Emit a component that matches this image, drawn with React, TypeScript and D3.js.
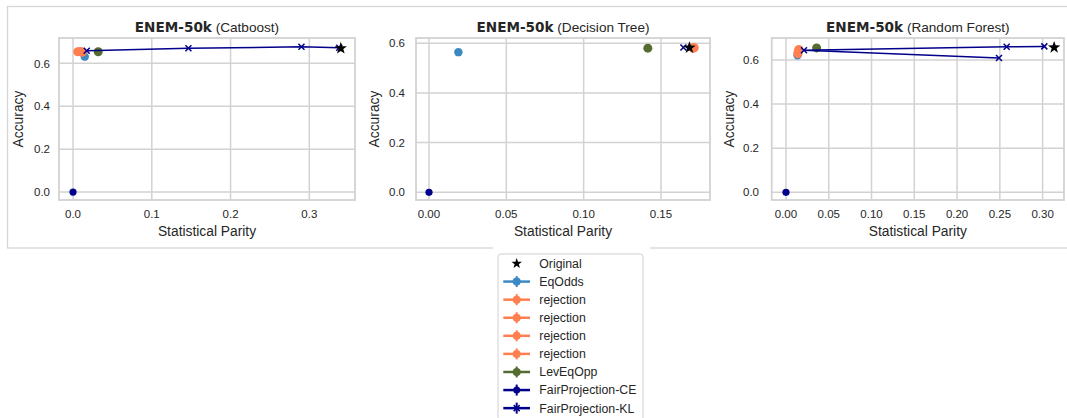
import React from "react";
import * as d3 from "d3";

const W = 1067;
const H = 418;

// ---------- data ----------
const titles = ["Catboost", "Decision Tree", "Random Forest"];
const xTickVals = [
  [0, 0.1, 0.2, 0.3],
  [0, 0.05, 0.1, 0.15],
  [0, 0.05, 0.1, 0.15, 0.2, 0.25, 0.3],
];
const xTickFmt = [".1f", ".2f", ".2f"];
const yTickVals = [0, 0.2, 0.4, 0.6];
const xDomains: [number, number][] = [
  [-0.0178, 0.358],
  [-0.0084, 0.1817],
  [-0.0167, 0.325],
];
const yDomains: [number, number][] = [
  [-0.037, 0.718],
  [-0.031, 0.621],
  [-0.035, 0.7],
];

// [x, y] per panel
const originalPts = [[0.34, 0.67], [0.1684, 0.582], [0.3135, 0.657]];
const eqOddsPts = [[0.0149, 0.631], [0.019, 0.564], [0.0135, 0.622]];
const rejection1 = [[0.006, 0.654], [0.1705, 0.581], [0.015, 0.648]];
const rejection2 = [[0.009, 0.655], [0.171, 0.58], [0.015, 0.642]];
const rejection3 = [[0.011, 0.653], [0.1715, 0.582], [0.014, 0.635]];
const rejection4 = [[0.012, 0.652], [0.1712, 0.581], [0.014, 0.628]];
const levEqOppPts = [[0.032, 0.654], [0.1415, 0.58], [0.0358, 0.655]];
const fpCEPts = [[0, 0], [0, 0], [0, 0]];
const fpKLPaths = [
  [[0.0174, 0.659], [0.1465, 0.67], [0.29, 0.677], [0.338, 0.673]],
  [[0.1645, 0.583]],
  [[0.249, 0.609], [0.021, 0.644], [0.258, 0.66], [0.302, 0.662]],
];

const legendLabels = [
  "Original",
  "EqOdds",
  "rejection",
  "rejection",
  "rejection",
  "rejection",
  "LevEqOpp",
  "FairProjection-CE",
  "FairProjection-KL",
];

// ---------- style ----------
const C_EQ = "#3a89c4";
const C_REJ = "#ff7f50";
const C_LEV = "#556b2f";
const C_FP = "#00008b";
const GRID = "#d2d2d2";
const TXT = "#262626";
const FONT = "'Liberation Sans', Arial, Helvetica, sans-serif";

const panels = [
  { left: 59, right: 355, ylabX: 23, ytickX: 50 },
  { left: 416, right: 710, ylabX: 378.5, ytickX: 405 },
  { left: 771.7, right: 1064, ylabX: 733.5, ytickX: 759 },
];
const TOP = 38;
const BOTTOM = 200;

function starPath(cx: number, cy: number, R: number) {
  const r = R * 0.4;
  const pts: string[] = [];
  for (let i = 0; i < 10; i++) {
    const a = -Math.PI / 2 + (i * Math.PI) / 5;
    const rr = i % 2 === 0 ? R : r;
    pts.push(`${cx + rr * Math.cos(a)},${cy + rr * Math.sin(a)}`);
  }
  return "M" + pts.join("L") + "Z";
}

function XMark({ x, y, s, color }: { x: number; y: number; s: number; color: string }) {
  return (
    <g stroke={color} strokeWidth={1.5}>
      <line x1={x - s} y1={y - s} x2={x + s} y2={y + s} />
      <line x1={x - s} y1={y + s} x2={x + s} y2={y - s} />
    </g>
  );
}

function Panel({ i }: { i: number }) {
  const p = panels[i];
  const x = d3.scaleLinear().domain(xDomains[i]).range([p.left, p.right]);
  const y = d3.scaleLinear().domain(yDomains[i]).range([BOTTOM, TOP]);
  const fx = d3.format(xTickFmt[i]);
  const fy = d3.format(".1f");
  const line = d3
    .line<number[]>()
    .x((d) => x(d[0]))
    .y((d) => y(d[1]));
  const cx = (p.left + p.right) / 2;
  const dot = (pt: number[], color: string, r: number, key: string) => (
    <circle key={key} cx={x(pt[0])} cy={y(pt[1])} r={r} fill={color} />
  );
  const kl = fpKLPaths[i];
  return (
    <g>
      {/* grid */}
      {xTickVals[i].map((t) => (
        <line key={"gx" + t} x1={x(t)} x2={x(t)} y1={TOP} y2={BOTTOM} stroke={GRID} strokeWidth={1.5} />
      ))}
      {yTickVals.map((t) => (
        <line key={"gy" + t} x1={p.left} x2={p.right} y1={y(t)} y2={y(t)} stroke={GRID} strokeWidth={1.5} />
      ))}
      <rect x={p.left} y={TOP} width={p.right - p.left} height={BOTTOM - TOP} fill="none" stroke={GRID} strokeWidth={1.8} />
      {/* tick labels */}
      {xTickVals[i].map((t) => (
        <text key={"tx" + t} x={x(t)} y={218} textAnchor="middle" fontSize={11.5} fill={TXT} fontFamily={FONT}>
          {fx(t)}
        </text>
      ))}
      {yTickVals.map((t) => (
        <text key={"ty" + t} x={p.ytickX} y={y(t) + 4.2} textAnchor="end" fontSize={11.5} fill={TXT} fontFamily={FONT}>
          {fy(t)}
        </text>
      ))}
      {/* axis labels */}
      <text x={cx} y={236} textAnchor="middle" fontSize={13.8} fill={TXT} fontFamily={FONT}>
        Statistical Parity
      </text>
      <text
        transform={`translate(${p.ylabX},${(TOP + BOTTOM) / 2}) rotate(-90)`}
        textAnchor="middle"
        fontSize={13.8}
        fill={TXT}
        fontFamily={FONT}
      >
        Accuracy
      </text>
      {/* title */}
      <text x={cx} y={31.5} textAnchor="middle" fontSize={13.6} fill={TXT}>
        <tspan fontFamily="'DejaVu Sans', sans-serif" fontWeight="bold">ENEM-50k</tspan>
        <tspan fontFamily={FONT}>{" (" + titles[i] + ")"}</tspan>
      </text>
      {/* marks */}
      {dot(eqOddsPts[i], C_EQ, 4.2, "eq")}
      {dot(rejection1[i], C_REJ, 4.5, "r1")}
      {dot(rejection2[i], C_REJ, 4.5, "r2")}
      {dot(rejection3[i], C_REJ, 4.5, "r3")}
      {dot(rejection4[i], C_REJ, 4.5, "r4")}
      {dot(levEqOppPts[i], C_LEV, 4.5, "lev")}
      {dot(fpCEPts[i], C_FP, 3.6, "ce")}
      {kl.length > 1 && <path d={line(kl) || ""} fill="none" stroke={C_FP} strokeWidth={1.5} />}
      {kl.map((pt, k) => (
        <XMark key={"kl" + k} x={x(pt[0])} y={y(pt[1])} s={3} color={C_FP} />
      ))}
      <path d={starPath(x(originalPts[i][0]), y(originalPts[i][1]), 6.5)} fill="#000" />
    </g>
  );
}

function Legend() {
  const x0 = 498;
  const y0 = 254;
  const rowY = (k: number) => 263.5 + k * 18.08;
  const hx = 516.7;
  const colors = [null, C_EQ, C_REJ, C_REJ, C_REJ, C_REJ, C_LEV, C_FP, C_FP];
  return (
    <g>
      <rect x={493} y={244} width={157} height={H - 244} fill="#fff" />
      <rect x={x0} y={y0} width={145} height={H - y0 + 10} rx={3} fill="#fff" stroke="#d0d0d0" strokeWidth={1} />
      {legendLabels.map((lab, k) => {
        const yy = rowY(k);
        const c = colors[k];
        return (
          <g key={k}>
            {k === 0 ? (
              <path d={starPath(hx, yy, 5.5)} fill="#000" />
            ) : (
              <g>
                <line x1={503.3} x2={530} y1={yy} y2={yy} stroke={c!} strokeWidth={2.5} />
                <line x1={hx} x2={hx} y1={yy - 5.5} y2={yy + 5.5} stroke={c!} strokeWidth={2} />
                {k === 8 ? (
                  <XMark x={hx} y={yy} s={3} color={c!} />
                ) : (
                  <circle cx={hx} cy={yy} r={k === 7 ? 3.5 : 4} fill={c!} />
                )}
              </g>
            )}
            <text x={539.3} y={yy + 4.4} fontSize={12.3} fill={TXT} fontFamily={FONT}>
              {lab}
            </text>
          </g>
        );
      })}
    </g>
  );
}

export default function App() {
  return (
    <svg width={W} height={H} style={{ position: "absolute", left: 0, top: 0, background: "#fff" }}>
      <rect x={0} y={0} width={W} height={H} fill="#fff" />
      <rect x={7.5} y={6.5} width={W + 10} height={241.5} fill="none" stroke="#d6d6d6" strokeWidth={1.3} />
      {[0, 1, 2].map((i) => (
        <Panel key={i} i={i} />
      ))}
      <Legend />
    </svg>
  );
}
